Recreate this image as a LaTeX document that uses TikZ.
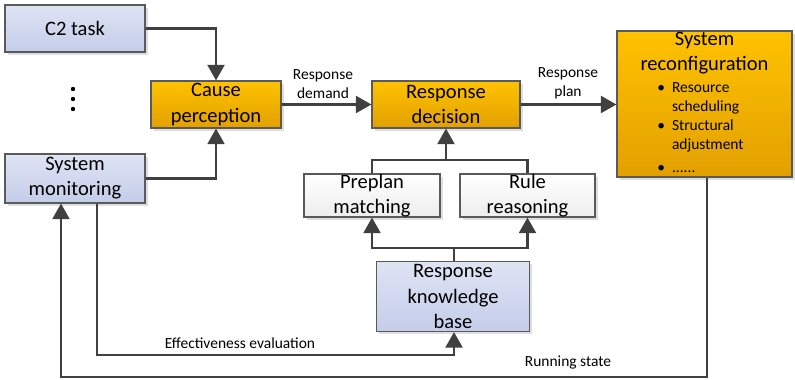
\documentclass[tikz,border=0pt]{standalone}
\usepackage{fontspec}
\setmainfont{Carlito}
\definecolor{boxblue}{RGB}{223, 228, 244}
\definecolor{boxbluedark}{RGB}{196, 205, 233}
\definecolor{boxgold}{RGB}{255, 194, 0}
\definecolor{boxgolddark}{RGB}{226, 160, 0}
\definecolor{edgegray}{RGB}{90, 90, 90}
\definecolor{flowgray}{RGB}{64, 64, 64}
\usetikzlibrary{arrows.meta, positioning, shadows}

\tikzset{
  basebox/.style={draw=edgegray, line width=0.8pt, inner sep=0pt, align=center,
    font=\fontsize{14.6}{17.8}\selectfont,
    drop shadow={shadow xshift=2pt, shadow yshift=-2pt, fill=black!13, opacity=1}},
  bluebox/.style={basebox, top color=boxblue, bottom color=boxbluedark},
  goldbox/.style={basebox, top color=boxgold, bottom color=boxgolddark},
  whitebox/.style={basebox, top color=white, bottom color=black!7},
  link/.style={draw=flowgray, line width=1.7pt},
  flow/.style={link, -{Triangle[width=12pt, length=11pt]}},
  flowlabel/.style={font=\fontsize{11}{13.5}\selectfont, align=center, inner sep=0pt}
}

\begin{document}
\begin{tikzpicture}[x=0.025cm, y=-0.025cm]
  \useasboundingbox (0,0) rectangle (795,380);

  % inputs
  \node[bluebox, minimum width=3.5cm, minimum height=1.175cm] (c2) at (75, 28.5) {C2 task};
  \fill[black] (73, 89) circle (2.2) (73, 99) circle (2.2) (73, 109) circle (2.2);
  \node[bluebox, minimum width=3.5cm, minimum height=1.225cm] (monitor) at (75, 178.5) {System\\monitoring};

  % main chain
  \node[goldbox, minimum width=3.25cm, minimum height=1.175cm] (cause) at (216, 104.5) {Cause\\perception};
  \node[goldbox, minimum width=3.7cm, minimum height=1.175cm] (decision) at (446, 104.5) {Response\\decision};
  \node[goldbox, minimum width=4.375cm, minimum height=3.65cm] (reconf) at (704.5, 104) {};
  \node[font=\fontsize{14.6}{17.8}\selectfont, align=center, inner sep=0pt, anchor=north] (reconftitle) at (704.5, 32) {System\\reconfiguration};
  \node[font=\fontsize{11}{13.5}\selectfont, inner sep=0pt, anchor=north west] (reconflist) at (657, 79) {%
    \begin{tabular}{@{}l@{\hspace{5pt}}l@{}}
      \textbullet & Resource\\
                  & scheduling\\
      \textbullet & Structural\\
                  & adjustment\\[3pt]
      \textbullet & ......
    \end{tabular}};

  % decision support
  \node[whitebox, minimum width=3.4cm, minimum height=1.075cm] (preplan) at (372, 195.5) {Preplan\\matching};
  \node[whitebox, minimum width=3.375cm, minimum height=1.075cm] (rule) at (527.5, 195.5) {Rule\\reasoning};
  \node[bluebox, minimum width=3.825cm, minimum height=1.75cm] (kb) at (453, 296.5) {Response\\knowledge\\base};

  \coordinate (join) at (446, 160);
  \coordinate (split) at (454, 248);
  \coordinate (evalcorner) at (97, 355);
  \coordinate (runcorner) at (707, 377);
  \coordinate (runleft) at (61, 377);

  % connectors
  \draw[flow] (c2.east) -| (cause.north);
  \draw[flow] (monitor.east) -| (cause.south);
  \draw[flow] (cause.east) -- (decision.west |- cause.east);
  \draw[flow] (decision.east) -- (reconf.west |- decision.east);
  \draw[link] (preplan.north) |- (join) -| (rule.north);
  \draw[flow] (join) -- (decision.south -| join);
  \draw[link] (kb.north -| split) -- (split);
  \draw[flow] (split) -| (preplan.south);
  \draw[flow] (split) -| (rule.south);
  \draw[flow] (evalcorner |- monitor.south) -- (evalcorner) -| (kb.south -| split);
  \draw[flow] (runcorner |- reconf.south) -- (runcorner) -- (runleft) -- (runleft |- monitor.south);

  % labels
  \node[flowlabel] (demandlabel) at (323, 84) {Response\\demand};
  \node[flowlabel] (planlabel) at (568, 83) {Response\\plan};
  \node[flowlabel] (evallabel) at (240, 343) {Effectiveness evaluation};
  \node[flowlabel] (runlabel) at (568, 363) {Running state};
\end{tikzpicture}
\end{document}
